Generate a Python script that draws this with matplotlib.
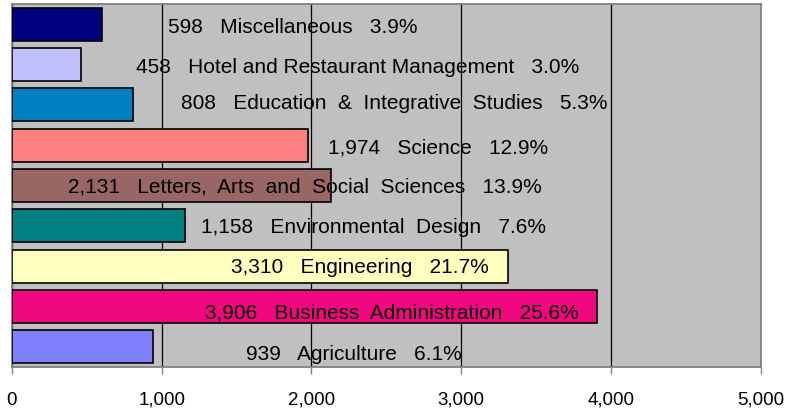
import matplotlib
matplotlib.use("Agg")
import matplotlib.pyplot as plt

# data, bottom to top
colleges = ["Agriculture", "Business  Administration", "Engineering", "Environmental  Design",
            "Letters,  Arts  and  Social  Sciences", "Science", "Education  &  Integrative  Studies",
            "Hotel and Restaurant Management", "Miscellaneous"]
enrollment = [939, 3906, 3310, 1158, 2131, 1974, 808, 458, 598]
bar_colors = ["#8080FF", "#F0087F", "#FFFFC0", "#008080", "#996666",
              "#FF8080", "#0080C0", "#C0C0FF", "#000080"]
x_ticks = [0, 1000, 2000, 3000, 4000, 5000]

# label placement (data x of label centre, downward shift in slot units)
label_x = [2284, 2538, 2324, 2411, 1957, 2845, 2551, 2311, 1877]
label_dy = [0.17, 0.14, 0.0, 0.02, 0.01, 0.05, -0.05, 0.06, 0.05]

plt.rcParams["font.family"] = ["Liberation Sans", "DejaVu Sans"]

fig = plt.figure(figsize=(7.89, 4.10), dpi=100)
ax = fig.add_axes([0.0152, 0.1024, 0.9489, 0.8854])
ax.set_facecolor("#C0C0C0")

total = sum(enrollment)
pos = list(range(len(colleges)))
ax.barh(pos, enrollment, height=0.82, color=bar_colors, edgecolor="black",
        linewidth=1.2, zorder=3)

for i, (name, v) in enumerate(zip(colleges, enrollment)):
    sp = "   "
    txt = f"{v:,}{sp}{name}{sp}{v / total * 100:.1f}%"
    ax.text(label_x[i], i - label_dy[i], txt, ha="center", va="center",
            fontsize=15, color="black", zorder=4)

ax.set_xlim(0, 5000)
ax.set_ylim(-0.5, len(colleges) - 0.5)
ax.set_xticks(x_ticks)
ax.set_xticklabels([f"{t:,}" for t in x_ticks], fontsize=13.5)
ax.set_yticks([])
ax.tick_params(axis="x", direction="out", length=5, width=1, color="#808080", pad=12)
ax.xaxis.grid(True, color="black", linewidth=0.9, zorder=1)
ax.set_axisbelow(True)
for s in ax.spines.values():
    s.set_color("#808080")
    s.set_linewidth(1.3)

fig.savefig("out.png", dpi=100, facecolor="white")
